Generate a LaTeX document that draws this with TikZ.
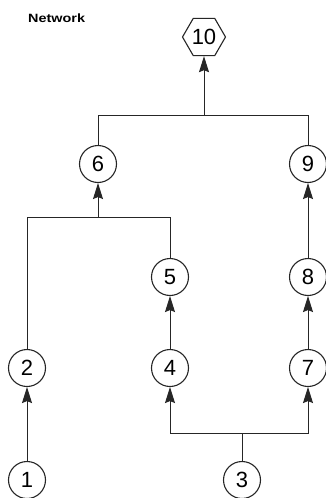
\documentclass[tikz,border=0pt]{standalone}
\usepackage{fontspec}
\setmainfont{Liberation Sans}
\usetikzlibrary{shapes.geometric,arrows.meta}
\tikzset{
  ink/.style={draw=black!85},
  event/.style={circle,ink,line width=1.1pt,minimum size=37pt,inner sep=0pt,
    font=\fontsize{22}{22}\selectfont},
  finalevent/.style={regular polygon,regular polygon sides=6,ink,line width=1.1pt,
    minimum size=43pt,inner sep=0pt,font=\fontsize{22}{22}\selectfont},
  link/.style={ink,line width=1pt},
  flow/.style={link,-{Stealth[length=16pt,width=10pt,inset=2pt]}},
}
\begin{document}
\begin{tikzpicture}[x=1pt,y=-1pt]
\useasboundingbox[fill=white] (0,0) rectangle (325,498);

% heading
\node[anchor=west,inner sep=0pt,font=\bfseries\fontsize{12}{12}\selectfont] (title) at (28,18)
  {\scalebox{1.2}[1]{Network}};

% events
\node[finalevent] (n10) at (204,37) {10};
\node[event] (n6) at (98,164) {6};
\node[event] (n9) at (308,164) {9};
\node[event] (n5) at (170,277) {5};
\node[event] (n8) at (308,277) {8};
\node[event] (n2) at (27,368) {2};
\node[event] (n4) at (170,368) {4};
\node[event] (n7) at (308,368) {7};
\node[event] (n1) at (27,480) {1};
\node[event] (n3) at (242,480) {3};

% junction points where branches merge or split
\coordinate (j10) at (204,115);
\coordinate (j6) at (98,217);
\coordinate (j3) at (242,433);

% activities
\draw[flow] (n1) -- (n2);
\draw[link] (n3) -- (j3);
\draw[flow] (j3) -| (n4);
\draw[flow] (j3) -| (n7);
\draw[flow] (n4) -- (n5);
\draw[flow] (n7) -- (n8);
\draw[flow] (n8) -- (n9);
\draw[link] (n2) |- (j6);
\draw[link] (n5) |- (j6);
\draw[flow] (j6) -- (n6);
\draw[link] (n6) |- (j10);
\draw[link] (n9) |- (j10);
\draw[flow] (j10) -- (n10);
\end{tikzpicture}
\end{document}
